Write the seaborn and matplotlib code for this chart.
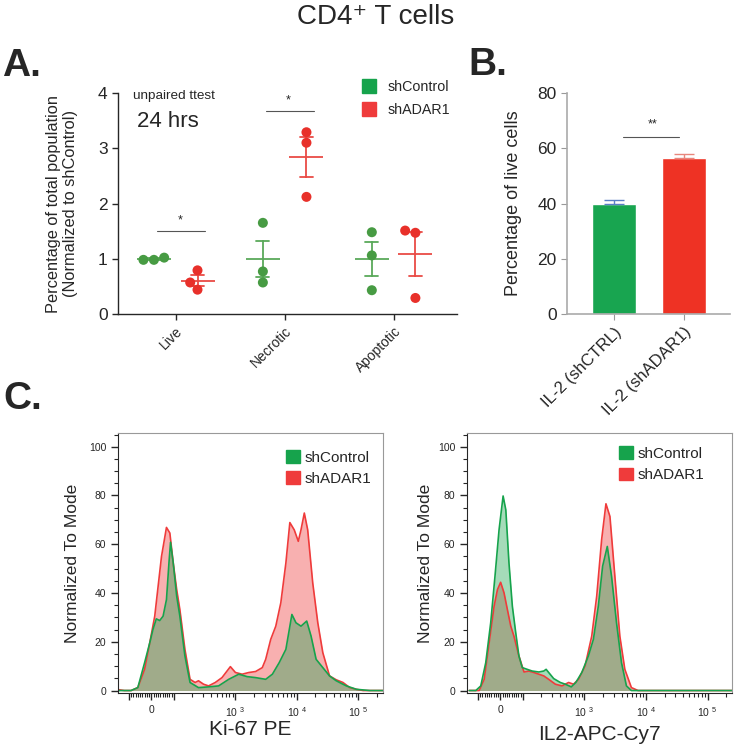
import numpy as np
import pandas as pd
import seaborn as sns
import matplotlib.pyplot as plt
from matplotlib.lines import Line2D
from matplotlib.patches import Patch
from matplotlib.ticker import FixedLocator, MultipleLocator

sns.set_style("ticks")
plt.rcParams['font.family'] = ['Liberation Sans', 'DejaVu Sans']
plt.rcParams['mathtext.fontset'] = 'custom'
plt.rcParams['mathtext.rm'] = 'Liberation Sans'

# Panel A: normalized % of population, 3 replicates per group
categories = ["Live", "Necrotic", "Apoptotic"]
groups = ["shControl", "shADAR1"]
live_ctrl = [0.98, 1.02, 0.98]
live_adar = [0.79, 0.44, 0.57]
necrotic_ctrl = [1.65, 0.77, 0.57]
necrotic_adar = [3.29, 3.10, 2.12]
apoptotic_ctrl = [1.48, 1.06, 0.43]
apoptotic_adar = [1.51, 1.47, 0.29]

# Panel B: % live cells (mean, sem)
bar_groups = ["IL-2 (shCTRL)", "IL-2 (shADAR1)"]
bar_means = [39.9, 56.3]
bar_sem = [1.3, 1.6]

# Panel C: flow histograms (intensity, % of mode)
ki67_ctrl_x = [-160, -90, -60, -30, -7, 7, 22, 37, 52, 67, 78, 85, 97, 111, 125, 151, 183, 251, 366, 533,
               778, 1135, 1552, 2128, 3105, 3990, 5140, 6610, 8280, 9640, 11640, 14420, 16980, 20510, 26360,
               33880, 43550, 63530, 92700, 153500, 250000]
ki67_ctrl_y = [0, 0, 1.2, 11.4, 19.6, 25.0, 29.4, 28.7, 30.5, 37.3, 52.3, 60.8, 52.3, 38.7, 30.5, 14.2, 3.3,
               1.2, 1.5, 1.9, 4.6, 6.7, 5.7, 5.3, 4.6, 6.7, 11.4, 16.9, 31.2, 27.8, 26.4, 28.5, 22.3, 12.8,
               9.4, 6.0, 4.0, 1.9, 0.5, 0, 0]
ki67_adar_x = [-160, -118, -90, -60, -30, -7, 15, 45, 67, 82, 97, 111, 125, 151, 183, 221, 251, 303, 366, 470,
               605, 828, 1000, 1285, 1656, 2128, 2735, 3105, 3750, 4530, 5470, 6610, 7670, 9040, 10520,
               11640, 13180, 14960, 18070, 21830, 26360, 33880, 43550, 56100, 72100, 92700, 119400, 153500,
               250000]
ki67_adar_y = [0.5, 0, 0, 1.2, 8.7, 19.6, 30.5, 55.0, 66.9, 64.6, 52.3, 41.4, 33.2, 16.9, 4.6, 3.3, 4.0, 2.6,
               1.9, 3.3, 5.3, 9.8, 7.4, 6.7, 7.4, 7.8, 9.4, 12.8, 21.0, 26.4, 36.0, 52.3, 68.9, 65.9, 61.2,
               65.9, 72.8, 65.9, 44.1, 27.8, 15.5, 6.0, 4.4, 3.3, 1.2, 0.5, 0, 0, 0]
il2_ctrl_x = [-138, -108, -87, -65, -43, -24, -6, 12, 24, 38, 53, 68, 82, 97, 117, 141, 181, 218, 238, 262,
              316, 405, 488, 610, 724, 906, 1159, 1396, 1679, 1972, 2350, 2754, 3319, 4000, 4810, 5794, 7430,
              250000]
il2_ctrl_y = [0, 0, 1.9, 11.4, 27.8, 46.9, 65.9, 79.8, 74.1, 52.3, 34.6, 23.7, 14.2, 9.4, 8.7, 8.0, 7.6, 8.0,
              8.7, 7.4, 4.9, 3.3, 2.6, 1.5, 3.3, 7.4, 14.2, 21.0, 34.6, 51.0, 59.1, 46.9, 27.8, 11.4, 1.9, 0,
              0, 0]
il2_adar_x = [-138, -94, -72, -50, -28, -13, 1, 16, 31, 46, 60, 82, 104, 125, 150, 181, 218, 262, 336, 431,
              552, 664, 800, 1023, 1312, 1581, 1901, 2234, 2594, 3119, 3758, 4530, 5794, 7430, 250000]
il2_adar_y = [0, 0, 4.6, 19.6, 34.6, 41.4, 44.4, 40.1, 33.2, 26.4, 22.3, 14.2, 7.6, 8.0, 7.4, 6.7, 6.0, 4.6,
              2.6, 1.9, 3.3, 2.6, 4.6, 10.1, 22.3, 38.7, 61.9, 76.6, 71.4, 46.9, 22.3, 8.7, 1.2, 0, 0]

GREEN = "#16a34c"
RED = "#ef3b3b"

fig = plt.figure(figsize=(7.35, 7.49), dpi=100)
axA = fig.add_axes([0.1605, 0.5808, 0.461, 0.295])
axB = fig.add_axes([0.7714, 0.5808, 0.2218, 0.295])
axC1 = fig.add_axes([0.1605, 0.0748, 0.3605, 0.347])
axC2 = fig.add_axes([0.6354, 0.0748, 0.3605, 0.347])

fig.text(0.511, 0.968, "CD4⁺ T cells", ha="center", va="baseline", fontsize=20)
fig.text(0.003, 0.899, "A.", fontsize=28, fontweight="bold", va="baseline")
fig.text(0.637, 0.900, "B.", fontsize=28, fontweight="bold", va="baseline")
fig.text(0.005, 0.454, "C.", fontsize=28, fontweight="bold", va="baseline")

# ---- Panel A
rows = []
for cat, c_vals, a_vals in zip(categories, [live_ctrl, necrotic_ctrl, apoptotic_ctrl],
                               [live_adar, necrotic_adar, apoptotic_adar]):
    rows += [(cat, "shControl", v) for v in c_vals]
    rows += [(cat, "shADAR1", v) for v in a_vals]
df_a = pd.DataFrame(rows, columns=["category", "group", "value"])

sns.swarmplot(data=df_a, x="category", y="value", hue="group", hue_order=groups, dodge=True,
              palette={"shControl": "#479b43", "shADAR1": "#e8302a"}, size=7.2, ax=axA, legend=False)
sns.pointplot(data=df_a, x="category", y="value", hue="group", hue_order=groups, dodge=0.4,
              errorbar="se", markers="_", linestyle="none", markersize=25, markeredgewidth=1.3,
              capsize=0.12, err_kws={"linewidth": 1.3},
              palette={"shControl": "#5aa95a", "shADAR1": "#e94b45"}, ax=axA, legend=False)
axA.set_xlim(-0.53, 2.58)
axA.set_ylim(0, 4)
axA.set_yticks([0, 1, 2, 3, 4])
axA.set_xlabel("")
axA.set_ylabel("Percentage of total population\n(Normalized to shControl)", fontsize=11.8)
axA.yaxis.set_label_coords(-0.118, 0.5)
axA.tick_params(axis="y", labelsize=12.5, length=4, width=1)
axA.tick_params(axis="x", labelsize=10, length=4, width=1)
plt.setp(axA.get_xticklabels(), rotation=45, ha="right", rotation_mode="anchor")
sns.despine(ax=axA)
for s in ["left", "bottom"]:
    axA.spines[s].set_linewidth(1)
axA.plot([-0.17, 0.27], [1.51, 1.51], color="#555555", lw=0.8)
axA.text(0.04, 1.58, "*", ha="center", va="bottom", fontsize=9)
axA.plot([0.83, 1.27], [3.68, 3.68], color="#555555", lw=0.8)
axA.text(1.03, 3.75, "*", ha="center", va="bottom", fontsize=9)
axA.text(0.044, 0.986, "unpaired ttest", transform=axA.transAxes, fontsize=9.7, va="center")
axA.text(0.056, 0.873, "24 hrs", transform=axA.transAxes, fontsize=16, va="center")
handles = [Line2D([], [], marker="s", linestyle="", markersize=10, color=GREEN),
           Line2D([], [], marker="s", linestyle="", markersize=10, color=RED)]
axA.legend(handles, groups, loc="upper left", bbox_to_anchor=(0.70, 1.06), frameon=False,
           fontsize=10.3, handletextpad=0.25, labelspacing=0.65, borderpad=0, borderaxespad=0)

# ---- Panel B
sns.barplot(x=bar_groups, y=bar_means, hue=bar_groups, palette=["#18a550", "#ee3224"], width=0.63,
            saturation=1, legend=False, ax=axB)
for i, (m, s, c) in enumerate(zip(bar_means, bar_sem, ["#5b7ec6", "#e8867c"])):
    axB.errorbar(i, m, yerr=[[0], [s]], fmt="none", ecolor=c, capsize=7.5, elinewidth=1, capthick=1)
axB.set_xlim(-0.67, 1.66)
axB.set_ylim(0, 80)
axB.set_yticks([0, 20, 40, 60, 80])
axB.set_ylabel("Percentage of live cells", fontsize=13)
axB.yaxis.set_label_coords(-0.276, 0.5)
axB.tick_params(axis="both", labelsize=12.5, length=4, color="#999999")
plt.setp(axB.get_xticklabels(), rotation=45, ha="right", rotation_mode="anchor", fontsize=12)
sns.despine(ax=axB)
for s in ["left", "bottom"]:
    axB.spines[s].set_color("#aaaaaa")
    axB.spines[s].set_linewidth(1.2)
axB.plot([0.13, 0.93], [64, 64], color="#555555", lw=0.8)
axB.text(0.56, 66.3, "**", ha="center", va="bottom", fontsize=9)

# ---- Panel C
minor_x = ([-s * 10 for s in range(1, 10)] + [s * 10 for s in range(1, 10)]
           + [s * 10 ** e for e in (2, 3, 4) for s in range(2, 10)] + [200000])


def histo(ax, xc, yc, xa, ya, xlabel, leg_anchor, xlabel_y):
    ax.fill_between(xa, ya, color=RED, alpha=0.4, lw=0)
    sns.lineplot(x=xa, y=ya, color=RED, lw=1.2, sort=False, estimator=None, ax=ax)
    ax.fill_between(xc, yc, color="#1ea552", alpha=0.4, lw=0)
    sns.lineplot(x=xc, y=yc, color=GREEN, lw=1.2, sort=False, estimator=None, ax=ax)
    ax.set_xscale("symlog", linthresh=100, linscale=0.33)
    ax.set_xlim(-150, 250000)
    ax.set_ylim(-1, 105.6)
    ax.set_xticks([-100, 0, 100, 1000, 10000, 100000])
    ax.set_xticklabels(["", "0", "", r"10 $^{3}$", r"10 $^{4}$", r"10 $^{5}$"])
    ax.xaxis.set_minor_locator(FixedLocator(minor_x))
    ax.set_yticks([0, 20, 40, 60, 80, 100])
    ax.yaxis.set_minor_locator(MultipleLocator(5))
    ax.tick_params(axis="both", which="major", labelsize=7.5, length=5, width=1)
    ax.tick_params(axis="x", which="major", pad=4)
    ax.tick_params(axis="both", which="minor", length=3, width=0.8)
    for s in ["top", "right"]:
        ax.spines[s].set_color("#999999")
    ax.set_xlabel(xlabel, fontsize=15)
    ax.xaxis.set_label_coords(0.5, xlabel_y)
    ax.set_ylabel("Normalized To Mode", fontsize=12.5)
    legend_handles = [Patch(color=GREEN), Patch(color=RED)]
    ax.legend(legend_handles, groups, loc="upper left", bbox_to_anchor=leg_anchor, frameon=False,
              fontsize=11, handlelength=0.9, handleheight=0.9, handletextpad=0.3, labelspacing=0.45,
              borderpad=0, borderaxespad=0)


histo(axC1, ki67_ctrl_x, ki67_ctrl_y, ki67_adar_x, ki67_adar_y, "Ki-67 PE", (0.634, 0.935), -0.105)
histo(axC2, il2_ctrl_x, il2_ctrl_y, il2_adar_x, il2_adar_y, "IL2-APC-Cy7", (0.574, 0.95), -0.125)
axC1.yaxis.set_label_coords(-0.143, 0.5)
axC2.yaxis.set_label_coords(-0.128, 0.5)

fig.savefig("out.png", dpi=100)
